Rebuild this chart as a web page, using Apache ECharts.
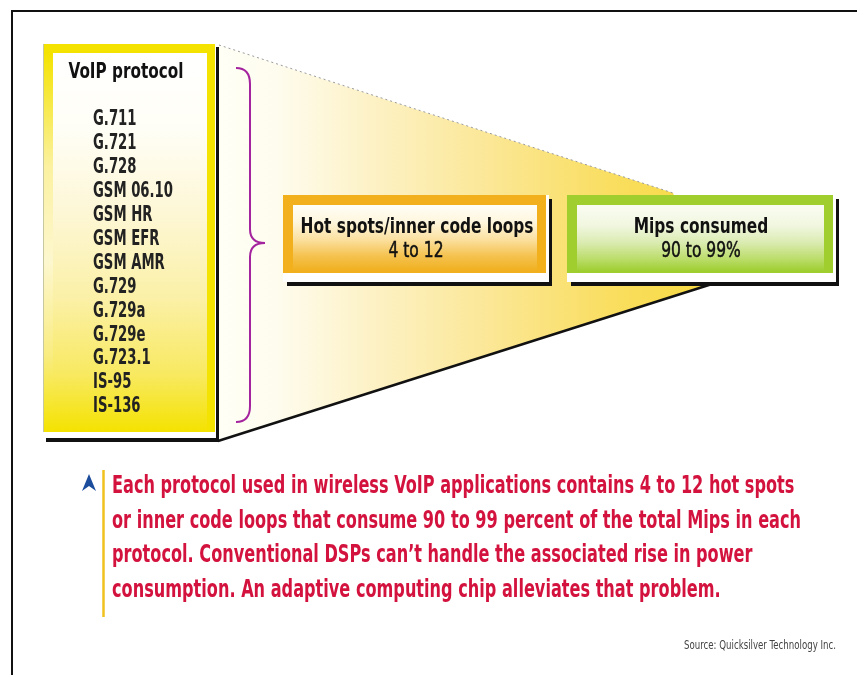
<!DOCTYPE html>
<html>
<head>
<meta charset="utf-8">
<script src="https://cdn.jsdelivr.net/npm/echarts@6/dist/echarts.min.js"></script>
<style>
html,body{margin:0;padding:0;background:#fff;}
#main{width:857px;height:675px;}
</style>
</head>
<body>
<div id="main"></div>
<script>
// ---- content ----
var listTitle = 'VoIP protocol';
var protocols = ['G.711','G.721','G.728','GSM 06.10','GSM HR','GSM EFR','GSM AMR','G.729','G.729a','G.729e','G.723.1','IS-95','IS-136'];
var hotTitle = 'Hot spots/inner code loops';
var hotValue = '4 to 12';
var mipsTitle = 'Mips consumed';
var mipsValue = '90 to 99%';
var captionLines = [
  'Each protocol used in wireless VoIP applications contains 4 to 12 hot spots',
  'or inner code loops that consume 90 to 99 percent of the total Mips in each',
  'protocol. Conventional DSPs can\u2019t handle the associated rise in power',
  'consumption. An adaptive computing chip alleviates that problem.'
];
var sourceText = 'Source: Quicksilver Technology Inc.';

// ---- layout ----
var FONT = "'DejaVu Sans Condensed','DejaVu Sans',sans-serif";
var mctx = document.createElement('canvas').getContext('2d');
function measure(t, size, weight) {
  mctx.font = weight + ' ' + size + 'px ' + FONT;
  return mctx.measureText(t).width;
}
function lg(x, y, x2, y2, stops) {
  return new echarts.graphic.LinearGradient(x, y, x2, y2, stops.map(function (s) { return { offset: s[0], color: s[1] }; }));
}
// text squeezed horizontally by factor sx (condensed look of the original face)
function txt(t, x, y, size, weight, color, align, sx, strokeW) {
  var st = {
    text: t, fontSize: size, fontWeight: weight, fontFamily: FONT, fill: color,
    align: align || 'left', verticalAlign: 'middle',
    textAlign: align || 'left', textVerticalAlign: 'middle'
  };
  if (strokeW) { st.stroke = color; st.lineWidth = strokeW; }
  return { type: 'text', x: x, y: y, z: 20, scaleX: sx || 1, style: st };
}
function rect(x, y, w, h, fill, z) {
  return { type: 'rect', z: z, shape: { x: x, y: y, width: w, height: h }, style: { fill: fill } };
}
// box with black drop line, white bevel, coloured frame and gradient inner
function box(x, y, w, h, frame, innerGrad, z) {
  return [
    rect(x + 4, y + 4, w + 2, h + 9, '#111', z),
    rect(x, y, w + 3, h + 9, '#ffffff', z + 1),
    rect(x, y, w, h, frame, z + 2),
    rect(x + 10, y + 10, w - 19, h - 11, innerGrad, z + 3)
  ];
}

var els = [];
// outer frame (top and left rules)
els.push({ type: 'polyline', z: 1, shape: { points: [[12, 676], [12, 11], [858, 11]] }, style: { stroke: '#111', lineWidth: 2, fill: null } });

// cone
els.push({
  type: 'polygon', z: 2,
  shape: { points: [[218, 45], [673, 193], [711, 285], [218, 441]] },
  style: { fill: lg(0, 0, 1, 0, [[0, '#fffff6'], [0.12, '#fefcee'], [0.28, '#fdf3cc'], [0.55, '#fbe796'], [0.8, '#f9de60'], [1, '#f7d940']]) }
});
els.push({ type: 'line', z: 3, shape: { x1: 219, y1: 45, x2: 673, y2: 193 }, style: { stroke: '#9a9a9a', lineWidth: 1, lineDash: [2, 3] } });
els.push({ type: 'line', z: 3, shape: { x1: 218, y1: 441, x2: 712, y2: 284 }, style: { stroke: '#111', lineWidth: 2.5 } });

// yellow protocol box
els.push(rect(46, 47, 173, 395, '#111', 5));
els.push(rect(43, 44, 173, 394, '#ffffff', 6));
els.push(rect(43, 44, 172, 388, '#f4e300', 7));
els.push(rect(43, 53, 10, 379, lg(0, 0, 0, 1, [[0, '#f4e300'], [0.3, '#fbf1a0'], [0.55, '#fdf7cf'], [0.8, '#f9ec80'], [1, '#f4e300']]), 8));
els.push(rect(53, 53, 154, 379, lg(0, 0, 0, 1, [[0, '#ffffff'], [0.2, '#fffef6'], [0.42, '#fdf7d6'], [0.65, '#fbf0a6'], [0.85, '#f8e960'], [1, '#f4e200']]), 8));
els.push(rect(43, 44, 1, 388, '#c8c8a0', 8));

// purple brace
var P = '#a4239e';
function bz(x1, y1, cx, cy, x2, y2) {
  return { type: 'bezierCurve', z: 9, shape: { x1: x1, y1: y1, x2: x2, y2: y2, cpx1: cx, cpy1: cy }, style: { stroke: P, lineWidth: 2, fill: null } };
}
els.push(bz(236, 68, 250, 68, 250, 84));
els.push({ type: 'line', z: 9, shape: { x1: 250, y1: 84, x2: 250, y2: 229 }, style: { stroke: P, lineWidth: 2 } });
els.push(bz(250, 229, 250, 243, 265, 243));
els.push(bz(265, 243, 250, 243, 250, 257));
els.push({ type: 'line', z: 9, shape: { x1: 250, y1: 257, x2: 250, y2: 406 }, style: { stroke: P, lineWidth: 2 } });
els.push(bz(250, 406, 250, 422, 236, 422));

// orange and green boxes
els = els.concat(box(283, 195, 263, 78, '#f1b01c',
  lg(0, 0, 0, 1, [[0, '#fffef6'], [0.25, '#fef6de'], [0.5, '#fbe2a4'], [0.75, '#f5c352'], [1, '#f0ae1a']]), 10));
els = els.concat(box(567, 195, 266, 78, '#9fce2e',
  lg(0, 0, 0, 1, [[0, '#fafcf2'], [0.3, '#f1f7e0'], [0.55, '#dcecb4'], [0.8, '#bcdd6c'], [1, '#9ccd2c']]), 10));

// texts in the diagram (squeeze factors derived from the widths in the original)
els.push(txt(listTitle, 126, 72, 22, 'bold', '#111', 'center', 115 / measure(listTitle, 22, 'bold')));
var sxList = 80 / measure('GSM 06.10', 21, 'bold');
protocols.forEach(function (p, i) {
  els.push(txt(p, 93, 120 + i * 23.9, 21, 'bold', '#222', 'left', sxList));
});
var sxTitle = 233 / measure(hotTitle, 21, 'bold');
els.push(txt(hotTitle, 417, 228, 21, 'bold', '#111', 'center', sxTitle));
els.push(txt(mipsTitle, 701, 228, 21, 'bold', '#111', 'center', sxTitle));
var sxVal = 55 / measure(hotValue, 21, 'normal');
els.push(txt(hotValue, 416, 252, 21, 'normal', '#111', 'center', sxVal, 0.5));
els.push(txt(mipsValue, 701, 252, 21, 'normal', '#111', 'center', sxVal, 0.5));

// caption
els.push({ type: 'polygon', z: 20, shape: { points: [[89, 474], [96, 491], [89, 486], [82, 491]] }, style: { fill: '#1b4d9c' } });
els.push({ type: 'line', z: 20, shape: { x1: 103.5, y1: 470, x2: 103.5, y2: 617 }, style: { stroke: '#f0c21e', lineWidth: 2.5 } });
var sxCap = 689 / measure(captionLines[1], 24, 'bold');
captionLines.forEach(function (l, i) {
  els.push(txt(l, 112, 487 + i * 34.6, 24, 'bold', '#d3123e', 'left', sxCap));
});
els.push(txt(sourceText, 836, 646, 12, 'normal', '#444', 'right', 152 / measure(sourceText, 12, 'normal')));

var chart = echarts.init(document.getElementById('main'), null, { renderer: 'canvas' });
chart.setOption({
  backgroundColor: '#ffffff',
  animation: false,
  graphic: { elements: els }
});
</script>
</body>
</html>
